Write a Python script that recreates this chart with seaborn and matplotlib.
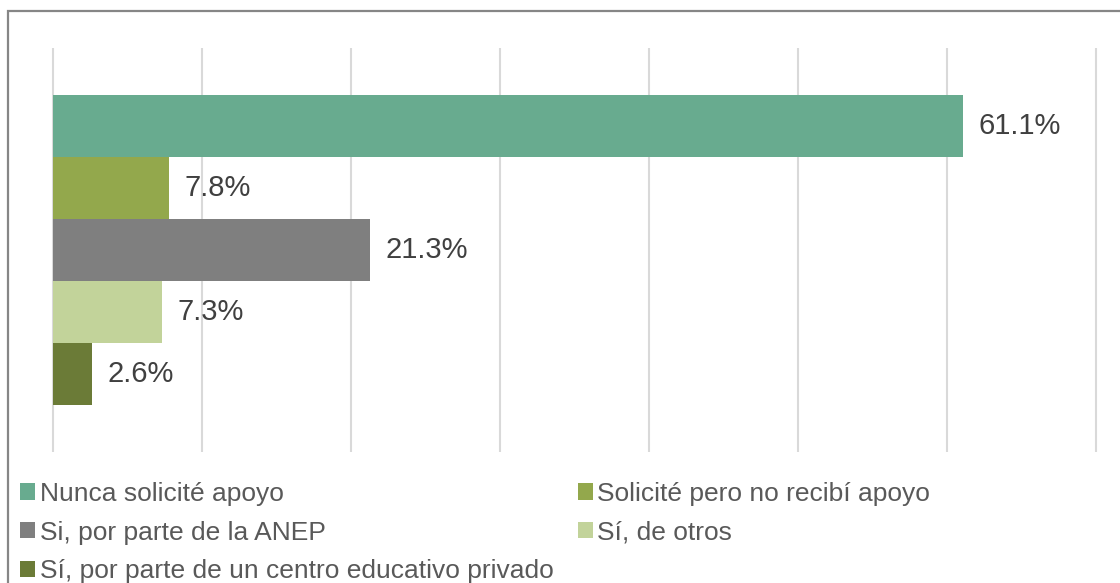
import matplotlib
matplotlib.use('Agg')
import matplotlib.pyplot as plt
import seaborn as sns
import pandas as pd
from matplotlib.patches import Rectangle, Patch

# ---- data ----
series = ["Nunca solicité apoyo",
          "Solicité pero no recibí apoyo",
          "Si, por parte de la ANEP",
          "Sí, de otros",
          "Sí, por parte de un centro educativo privado"]
values = [61.1, 7.8, 21.3, 7.3, 2.6]
colors = ["#68AB8F", "#93A84C", "#7F7F7F", "#C2D39A", "#6B7B37"]
grid_ticks = [0, 10, 20, 30, 40, 50, 60, 70]

df = pd.DataFrame({"grupo": [""] * len(series), "serie": series, "valor": values})

sns.set_theme(style="white")
plt.rcParams['font.family'] = ['Liberation Sans', 'DejaVu Sans']

W, H = 1120, 583
fig = plt.figure(figsize=(W / 100, H / 100), dpi=100)

# axes placement (pixels)
unit = 149 / 10.0
x0_px = 53 - unit
x1_px = 1096 + unit
top_px, bot_px = 48, 452
ax = fig.add_axes([x0_px / W, 1 - bot_px / H, (x1_px - x0_px) / W, (bot_px - top_px) / H])

sns.barplot(data=df, x="valor", y="grupo", hue="serie", orient="h",
            palette=colors, hue_order=series, width=0.8, gap=0,
            saturation=1, legend=False, linewidth=0, ax=ax)

ax.set_xlim(-1, 71)
ax.set_ylim(0.52, -0.52)
ax.set_xticks(grid_ticks)
ax.set_xticklabels([])
ax.set_yticks([])
ax.set_xlabel("")
ax.set_ylabel("")
ax.tick_params(length=0)
ax.grid(axis="x", color="#D9D9D9", linewidth=1.5)
ax.set_axisbelow(True)
for s in ax.spines.values():
    s.set_visible(False)

for cont in ax.containers:
    for bar in cont:
        bar.set_edgecolor("none")
        bar.set_linewidth(0)
    ax.bar_label(cont, labels=[f"{v:.1f}%" for v in cont.datavalues],
                 padding=11, fontsize=21, color="#404040")

# outer frame (chart area border, extends off canvas to right/bottom)
fig.patches.append(Rectangle((8 / W, -0.1), 1.2, 1.1 - 11 / H,
                             transform=fig.transFigure, fill=False,
                             edgecolor="#868686", linewidth=1.6))

# legend, row-wise order in 2 columns
order = [0, 2, 4, 1, 3]
handles = [Patch(facecolor=colors[i], edgecolor="none") for i in order]
labels = [series[i] for i in order]
fig.legend(handles, labels, loc="upper left",
           bbox_to_anchor=(20 / W, 1 - 482 / H),
           ncol=2, frameon=False, fontsize=19, labelcolor="#595959",
           handlelength=0.58, handleheight=0.58, handletextpad=0.16,
           columnspacing=0.92, labelspacing=0.55, borderpad=0,
           borderaxespad=0)

fig.savefig("out.png", dpi=100, facecolor="white")
